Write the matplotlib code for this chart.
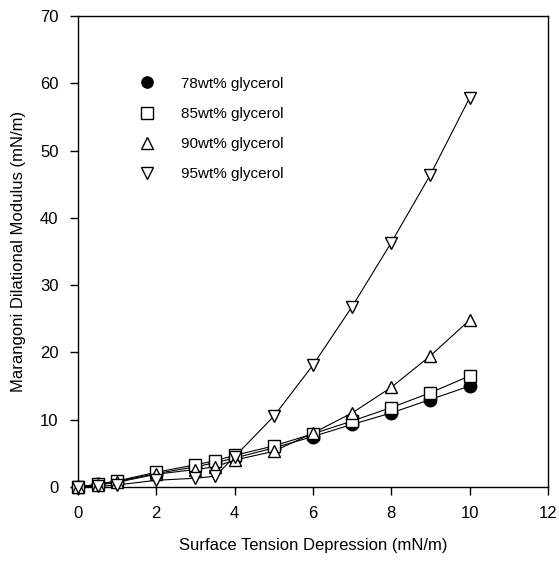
import matplotlib
matplotlib.use("Agg")
import matplotlib.pyplot as plt

plt.rcParams['font.family'] = ['Liberation Sans', 'DejaVu Sans']

x = [0, 0.5, 1, 2, 3, 3.5, 4, 5, 6, 7, 8, 9, 10]
g78 = [0, 0.4, 0.8, 2.0, 3.0, 3.6, 4.3, 5.8, 7.5, 9.3, 11.0, 13.0, 15.0]
g85 = [0, 0.4, 0.9, 2.2, 3.3, 3.9, 4.7, 6.1, 7.9, 9.8, 11.8, 14.0, 16.5]
g90 = [0, 0.3, 0.7, 1.9, 2.6, 3.0, 4.0, 5.3, 8.0, 11.0, 14.8, 19.5, 24.8]
g95 = [0, 0.1, 0.3, 1.0, 1.3, 1.6, 4.5, 10.5, 18.1, 26.8, 36.3, 46.4, 57.8]
labels = ['78wt% glycerol', '85wt% glycerol', '90wt% glycerol', '95wt% glycerol']

fig = plt.figure(figsize=(5.59, 5.63), dpi=100)
ax = fig.add_axes([0.1395, 0.135, 0.8405, 0.8366])

series = [(g78, 'o', 'black'), (g85, 's', 'white'), (g90, '^', 'white'), (g95, 'v', 'white')]
handles = []
for (y, m, fc), lab in zip(series, labels):
    ax.plot(x, y, color='black', lw=0.8, zorder=3, clip_on=False)
    h, = ax.plot(x, y, ls='none', marker=m, ms=9, mfc=fc, mec='black', mew=1.0,
                 zorder=4, clip_on=False)
    handles.append(h)

ax.set_xlim(0, 12)
ax.set_ylim(0, 70)
ax.set_xticks(range(0, 13, 2))
ax.set_yticks(range(0, 71, 10))
ax.tick_params(direction='out', length=6, width=1, labelsize=12, pad=8)
for s in ax.spines.values():
    s.set_linewidth(1)
ax.set_xlabel('Surface Tension Depression (mN/m)', fontsize=12, labelpad=12)
ax.set_ylabel('Marangoni Dilational Modulus (mN/m)', fontsize=12, labelpad=10)

leg = ax.legend(handles, labels, loc='upper left', bbox_to_anchor=(0.085, 0.90),
                frameon=False, fontsize=11, handletextpad=1.2, labelspacing=1.05,
                markerscale=0.9)

fig.savefig('out.png', dpi=100)
